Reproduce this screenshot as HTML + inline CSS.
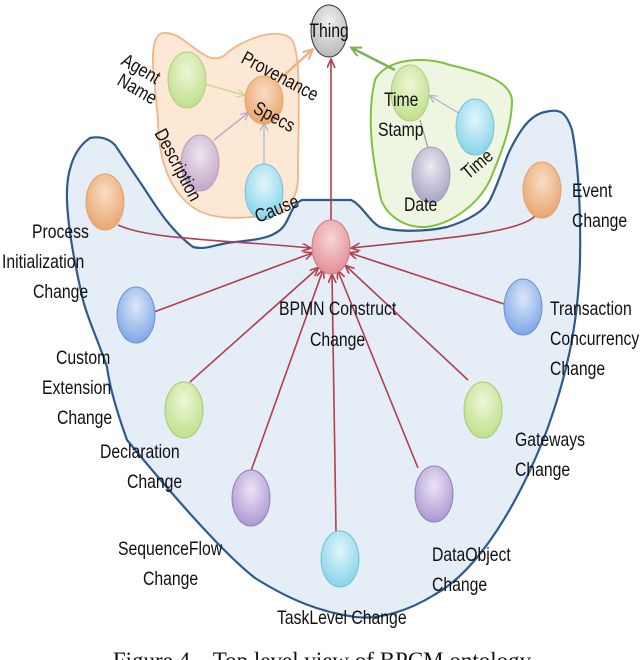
<!DOCTYPE html>
<html><head><meta charset="utf-8"><style>
html,body{margin:0;padding:0;background:#fff;width:640px;height:660px;overflow:hidden}
svg{display:block}
text{font-family:"Liberation Sans",sans-serif;font-size:19px;fill:#111}
</style></head><body>
<svg width="640" height="660" viewBox="0 0 640 660">
<defs>
<radialGradient id="gG" cx="50%" cy="35%" r="65%"><stop offset="0" stop-color="#eef6d8"/><stop offset="1" stop-color="#bfe08a"/></radialGradient>
<radialGradient id="gO" cx="50%" cy="35%" r="65%"><stop offset="0" stop-color="#f8ddc4"/><stop offset="1" stop-color="#e9a66e"/></radialGradient>
<radialGradient id="gB" cx="50%" cy="35%" r="65%"><stop offset="0" stop-color="#dbe8fa"/><stop offset="1" stop-color="#7ea6e6"/></radialGradient>
<radialGradient id="gP" cx="50%" cy="35%" r="65%"><stop offset="0" stop-color="#ece4f4"/><stop offset="1" stop-color="#ad98d4"/></radialGradient>
<radialGradient id="gC" cx="50%" cy="35%" r="65%"><stop offset="0" stop-color="#e2f6fb"/><stop offset="1" stop-color="#86d4ea"/></radialGradient>
<radialGradient id="gR" cx="50%" cy="35%" r="65%"><stop offset="0" stop-color="#f5d6d8"/><stop offset="1" stop-color="#e38f96"/></radialGradient>
<radialGradient id="gK" cx="50%" cy="35%" r="65%"><stop offset="0" stop-color="#f2f2f2"/><stop offset="1" stop-color="#b8b8b8"/></radialGradient>
<radialGradient id="gM" cx="50%" cy="35%" r="65%"><stop offset="0" stop-color="#eee6ee"/><stop offset="1" stop-color="#c4a6c8"/></radialGradient>
<radialGradient id="gD" cx="50%" cy="35%" r="65%"><stop offset="0" stop-color="#eceaf2"/><stop offset="1" stop-color="#a8a4c4"/></radialGradient>
<marker id="aR" markerWidth="10" markerHeight="10" refX="8" refY="4" orient="auto" markerUnits="userSpaceOnUse"><path d="M0,0 L9,4 L0,8" fill="none" stroke="#b0404c" stroke-width="1.6"/></marker>
<marker id="aO" markerWidth="12" markerHeight="12" refX="9" refY="5" orient="auto" markerUnits="userSpaceOnUse"><path d="M0,0 L10,5 L0,10" fill="none" stroke="#f0b080" stroke-width="2"/></marker>
<marker id="aG" markerWidth="12" markerHeight="12" refX="9" refY="5" orient="auto" markerUnits="userSpaceOnUse"><path d="M0,0 L10,5 L0,10" fill="none" stroke="#7cb050" stroke-width="2"/></marker>
<marker id="aL" markerWidth="10" markerHeight="10" refX="7" refY="4" orient="auto" markerUnits="userSpaceOnUse"><path d="M0,0 L8,4 L0,8" fill="none" stroke="#a8b8d0" stroke-width="1.3"/></marker>
<marker id="aLG" markerWidth="10" markerHeight="10" refX="7" refY="4" orient="auto" markerUnits="userSpaceOnUse"><path d="M0,0 L8,4 L0,8" fill="none" stroke="#c0d890" stroke-width="1.3"/></marker>
<marker id="aLP" markerWidth="10" markerHeight="10" refX="7" refY="4" orient="auto" markerUnits="userSpaceOnUse"><path d="M0,0 L8,4 L0,8" fill="none" stroke="#c0a8cc" stroke-width="1.3"/></marker>
</defs>

<!-- blue blob -->
<path d="M90,138 C100,136 108,138 115,145 C125,160 135,175 142,185 C155,205 170,230 193,247 C205,250 215,245 227,243 C250,240 268,240 280,230 C290,222 290,205 302,200 L351,200 C362,205 370,222 380,227 C395,232 425,232 447,227 C470,220 485,210 490,200 C500,180 505,160 510,150 C520,130 530,115 545,112 C560,108 566,112 572,130 C578,160 581,210 580,260 C578,330 565,380 547,430 C520,500 480,570 434,595 C410,610 380,620 355,617 C320,612 290,600 255,578 C219,550 160,480 127,440 C118,415 110,390 107,367 C98,340 88,320 83,300 C76,270 68,230 67,200 C66,175 72,150 90,138 Z" fill="#e5edf7" stroke="#2f5a8e" stroke-width="2.2"/>

<!-- orange blob -->
<path d="M163,33 C185,30 205,70 225,55 C240,40 280,25 292,40 C302,55 298,120 298,180 C296,205 285,213 260,216 C230,220 205,218 190,205 C165,185 158,150 158,120 C156,90 145,36 163,33 Z" fill="#fde8d6" stroke="#f2b486" stroke-width="1.8"/>
<!-- green blob -->
<path d="M375,80 C385,60 420,55 450,65 C480,72 510,80 512,100 C512,130 498,160 490,180 C478,205 450,225 425,227 C400,228 382,210 380,195 C375,170 365,120 375,80 Z" fill="#eef6e2" stroke="#7cc23c" stroke-width="2"/>

<!-- inner arrows top -->
<line x1="204" y1="84" x2="244" y2="95" stroke="#c0d890" stroke-width="1.3" marker-end="url(#aLG)"/>
<line x1="214" y1="140" x2="248" y2="113" stroke="#c0a8cc" stroke-width="1.5" marker-end="url(#aLP)"/>
<line x1="264" y1="164" x2="264" y2="124" stroke="#a8b8d0" stroke-width="1.2" marker-end="url(#aL)"/>
<line x1="279" y1="80" x2="312" y2="50" stroke="#f0b080" stroke-width="2.5" marker-end="url(#aO)"/>
<line x1="395" y1="70" x2="352" y2="48" stroke="#7cb050" stroke-width="2.5" marker-end="url(#aG)"/>
<line x1="462" y1="115" x2="430" y2="96" stroke="#a8b8d0" stroke-width="1.3" marker-end="url(#aL)"/>
<line x1="420" y1="120" x2="428" y2="148" stroke="#999" stroke-width="1.2"/>

<!-- red connectors -->
<g stroke="#b0404c" stroke-width="1.6" fill="none" marker-end="url(#aR)">
<line x1="331" y1="220" x2="331" y2="60"/>
<path d="M118,225 C150,240 230,240 310,248"/>
<path d="M536,215 C520,235 420,240 352,248"/>
<line x1="154" y1="312" x2="312" y2="253"/>
<line x1="507" y1="305" x2="350" y2="253"/>
<line x1="190" y1="382" x2="318" y2="268"/>
<line x1="468" y1="380" x2="346" y2="266"/>
<line x1="251" y1="471" x2="323" y2="270"/>
<line x1="418" y1="468" x2="338" y2="271"/>
<line x1="336" y1="531" x2="332" y2="275"/>
</g>

<!-- nodes -->
<g stroke-width="1">
<ellipse cx="329" cy="31" rx="18" ry="26" fill="url(#gK)" stroke="#333"/>
<ellipse cx="187" cy="80" rx="19" ry="28" fill="url(#gG)" stroke="#b0cc80"/>
<ellipse cx="264" cy="100" rx="19" ry="24" fill="url(#gO)" stroke="#e8a060"/>
<ellipse cx="200" cy="163" rx="19" ry="28" fill="url(#gM)" stroke="#b8a0bc"/>
<ellipse cx="264" cy="192" rx="19" ry="28" fill="url(#gC)" stroke="#80c0d0"/>
<ellipse cx="410" cy="93" rx="19" ry="28" fill="url(#gG)" stroke="#b0cc80"/>
<ellipse cx="475" cy="127" rx="19" ry="28" fill="url(#gC)" stroke="#80c0d0"/>
<ellipse cx="431" cy="175" rx="19" ry="28" fill="url(#gD)" stroke="#a0a0bc"/>
<ellipse cx="331" cy="247" rx="19" ry="27" fill="url(#gR)" stroke="#d07880"/>
<ellipse cx="105" cy="202" rx="19" ry="28" fill="url(#gO)" stroke="#e0a070"/>
<ellipse cx="542" cy="190" rx="19" ry="28" fill="url(#gO)" stroke="#e0a070"/>
<ellipse cx="136" cy="315" rx="19" ry="28" fill="url(#gB)" stroke="#6a90d0"/>
<ellipse cx="523" cy="307" rx="19" ry="28" fill="url(#gB)" stroke="#6a90d0"/>
<ellipse cx="184" cy="410" rx="19" ry="28" fill="url(#gG)" stroke="#a8c878"/>
<ellipse cx="483" cy="410" rx="19" ry="28" fill="url(#gG)" stroke="#a8c878"/>
<ellipse cx="251" cy="498" rx="19" ry="28" fill="url(#gP)" stroke="#9080b8"/>
<ellipse cx="434" cy="494" rx="19" ry="28" fill="url(#gP)" stroke="#9080b8"/>
<ellipse cx="340" cy="559" rx="19" ry="28" fill="url(#gC)" stroke="#70c0d8"/>
</g>

<!-- labels -->
<text x="329" y="37" text-anchor="middle" font-size="14" transform="translate(56,0) scale(.83,1)" >Thing</text>
<text transform="translate(120,64) rotate(30) scale(.83,1)">Agent</text>
<text transform="translate(116,84) rotate(30) scale(.83,1)">Name</text>
<text transform="translate(240,62) rotate(28) scale(.83,1)">Provenance</text>
<text transform="translate(252,112) rotate(28) scale(.83,1)">Specs</text>
<text transform="translate(154,133) rotate(62) scale(.83,1)">Description</text>
<text transform="translate(258,223) rotate(-22) scale(.83,1)">Cause</text>
<text transform="translate(384,106) scale(.83,1)">Time</text>
<text transform="translate(378,136) scale(.83,1)">Stamp</text>
<text transform="translate(404,211) scale(.83,1)">Date</text>
<text transform="translate(468,180) rotate(-40) scale(.83,1)">Time</text>
<text transform="translate(32,238) scale(.83,1)">Process</text>
<text transform="translate(2,268) scale(.83,1)">Initialization</text>
<text transform="translate(33,298) scale(.83,1)">Change</text>
<text transform="translate(572,197) scale(.83,1)">Event</text>
<text transform="translate(572,227) scale(.83,1)">Change</text>
<text transform="translate(279,315) scale(.83,1)">BPMN Construct</text>
<text transform="translate(310,346) scale(.83,1)">Change</text>
<text transform="translate(56,364) scale(.83,1)">Custom</text>
<text transform="translate(42,394) scale(.83,1)">Extension</text>
<text transform="translate(57,424) scale(.83,1)">Change</text>
<text transform="translate(550,315) scale(.83,1)">Transaction</text>
<text transform="translate(550,345) scale(.83,1)">Concurrency</text>
<text transform="translate(550,375) scale(.83,1)">Change</text>
<text transform="translate(100,458) scale(.83,1)">Declaration</text>
<text transform="translate(127,488) scale(.83,1)">Change</text>
<text transform="translate(515,446) scale(.83,1)">Gateways</text>
<text transform="translate(515,476) scale(.83,1)">Change</text>
<text transform="translate(118,555) scale(.83,1)">SequenceFlow</text>
<text transform="translate(143,585) scale(.83,1)">Change</text>
<text transform="translate(432,561) scale(.83,1)">DataObject</text>
<text transform="translate(432,591) scale(.83,1)">Change</text>
<text transform="translate(277,624) scale(.83,1)">TaskLevel  Change</text>
<text x="322" y="668" text-anchor="middle" style="font-family:'Liberation Serif',serif;font-size:23px">Figure 4 – Top level view of BPCM ontology</text>
</svg>
</body></html>
